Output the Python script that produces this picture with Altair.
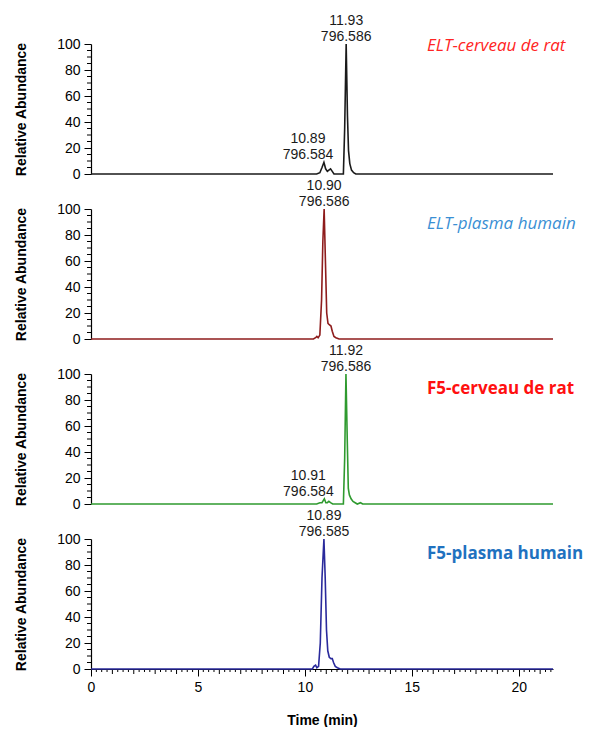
import altair as alt
import pandas as pd

# ---------------- chromatogram traces (time in min, relative abundance %) ----------------
t_elt_rat = [0.0, 10.55, 10.70, 10.80, 10.89, 10.97, 11.05, 11.12, 11.20, 11.28, 11.36,
             11.80, 11.86, 11.93, 11.99, 12.04, 12.10, 12.18, 12.28, 12.38, 21.6]
a_elt_rat = [0, 0, 1, 5, 9, 4, 2, 3, 4, 2, 0,
             0, 35, 100, 45, 18, 8, 3, 1, 0, 0]

t_elt_plasma = [0.0, 10.40, 10.50, 10.56, 10.62, 10.70, 10.78, 10.84, 10.90, 10.96, 11.02,
                11.08, 11.14, 11.22, 11.28, 11.36, 11.45, 11.60, 21.6]
a_elt_plasma = [0, 0, 1, 2, 1, 3, 30, 75, 100, 60, 20,
                12, 11, 10, 6, 2, 1, 0, 0]

t_f5_rat = [0.0, 10.55, 10.70, 10.80, 10.91, 10.98, 11.05, 11.12, 11.20, 11.30,
            11.80, 11.86, 11.92, 11.98, 12.03, 12.08, 12.16, 12.25, 12.35, 12.45, 12.60, 12.70, 21.6]
a_f5_rat = [0, 0, 1, 1, 4, 1, 1, 2, 1, 0,
            0, 35, 100, 50, 12, 7, 4, 2, 1, 0, 1, 0, 0]

t_f5_plasma = [0.0, 10.35, 10.42, 10.50, 10.56, 10.64, 10.72, 10.80, 10.89, 10.95, 11.01,
               11.07, 11.14, 11.22, 11.28, 11.34, 11.42, 11.52, 11.65, 21.6]
a_f5_plasma = [0, 0, 2, 3, 1, 2, 20, 70, 100, 70, 30,
               14, 9, 8, 8, 5, 2, 1, 0, 0]

# ---------------- peak annotations ----------------
ann_elt_rat_rt = [11.93, 10.89]
ann_elt_rat_mz = ["796.586", "796.584"]
ann_elt_rat_h = [100, 9]
ann_elt_rat_role = ["main", "minor"]

ann_elt_plasma_rt = [10.90]
ann_elt_plasma_mz = ["796.586"]
ann_elt_plasma_h = [100]
ann_elt_plasma_role = ["main"]

ann_f5_rat_rt = [11.92, 10.91]
ann_f5_rat_mz = ["796.586", "796.584"]
ann_f5_rat_h = [100, 4]
ann_f5_rat_role = ["main", "minor"]

ann_f5_plasma_rt = [10.89]
ann_f5_plasma_mz = ["796.585"]
ann_f5_plasma_h = [100]
ann_f5_plasma_role = ["main"]

panel_names = ["ELT-cerveau de rat", "ELT-plasma humain", "F5-cerveau de rat", "F5-plasma humain"]

# ---------------- axis ticks ----------------
x_major = [0, 5, 10, 15, 20]
x_int_minor = [1, 2, 3, 4, 6, 7, 8, 9, 11, 12, 13, 14, 16, 17, 18, 19, 21]
x_quarter = [i / 4 for i in range(0, 87) if i % 4 != 0]
y_major = [0, 20, 40, 60, 80, 100]
y_minor = [5, 10, 15, 25, 30, 35, 45, 50, 55, 65, 70, 75, 85, 90, 95]

W, H = 462, 130
LAB_FONT = "Liberation Sans"

x_scale = alt.Scale(domain=[0, 21.6], nice=False, zero=False)
y_scale = alt.Scale(domain=[0, 100], nice=False)


def panel(t, a, color, rts, mzs, hs, roles, name, name_color, name_style, name_weight,
          name_dy, bottom):
    df = pd.DataFrame({"t": t, "a": a})
    if bottom:
        x_axis = alt.Axis(values=x_major, tickSize=7, title="Time (min)", labelFlush=False,
                          labelOverlap=False, labelPadding=4, titlePadding=19)
    else:
        x_axis = None
    y_axis = alt.Axis(values=y_major, tickSize=7, title="Relative Abundance", labelFlush=False,
                      labelOverlap=False, labelPadding=4, titlePadding=28)

    def X(f):
        return alt.X(f, scale=x_scale, axis=x_axis)

    def Y(f):
        return alt.Y(f, scale=y_scale, axis=y_axis)

    line = alt.Chart(df).mark_line(color=color, strokeWidth=1.6).encode(x=X("t:Q"), y=Y("a:Q"))

    ann = pd.DataFrame({
        "t": rts, "a": hs, "role": roles, "mz": mzs,
        "rt": [f"{r:.2f}" for r in rts],
    })
    txt_kw = dict(baseline="alphabetic", fontSize=14, font=LAB_FONT, color="#1a1a1a")
    layers_txt = []
    for role, dx in (("main", 0), ("minor", -16)):
        sub = alt.Chart(ann).transform_filter(f"datum.role === '{role}'")
        layers_txt.append(sub.mark_text(dx=dx, dy=-19, **txt_kw).encode(
            x=X("t:Q"), y=Y("a:Q"), text="rt:N"))
        layers_txt.append(sub.mark_text(dx=dx, dy=-3, **txt_kw).encode(
            x=X("t:Q"), y=Y("a:Q"), text="mz:N"))

    ymin = alt.Chart(pd.DataFrame({"v": y_minor})).mark_rule(color="black", strokeWidth=1).encode(
        y=Y("v:Q"), x=alt.value(0), x2=alt.value(-4))

    name_txt = alt.Chart(pd.DataFrame({"n": [name]})).mark_text(
        align="left", baseline="middle", font="Open Sans", fontSize=17,
        fontStyle=name_style, fontWeight=name_weight, color=name_color).encode(
        x=alt.value(336), y=alt.value(name_dy), text="n:N")

    layers = [ymin, line] + layers_txt + [name_txt]
    if bottom:
        xq = alt.Chart(pd.DataFrame({"v": x_quarter})).mark_rule(color="black").encode(
            x=X("v:Q"), y=alt.value(H), y2=alt.value(H + 3))
        xi = alt.Chart(pd.DataFrame({"v": x_int_minor})).mark_rule(color="black").encode(
            x=X("v:Q"), y=alt.value(H), y2=alt.value(H + 5))
        layers = [xq, xi] + layers
    return alt.layer(*layers).properties(width=W, height=H)


p1 = panel(t_elt_rat, a_elt_rat, "#1a1a1a", ann_elt_rat_rt, ann_elt_rat_mz, ann_elt_rat_h,
           ann_elt_rat_role, panel_names[0], "#ff2424", "italic", "normal", 2, False)
p2 = panel(t_elt_plasma, a_elt_plasma, "#8e1c1c", ann_elt_plasma_rt, ann_elt_plasma_mz,
           ann_elt_plasma_h, ann_elt_plasma_role, panel_names[1], "#3a8fd4", "italic", "normal",
           15, False)
p3 = panel(t_f5_rat, a_f5_rat, "#2f9a2f", ann_f5_rat_rt, ann_f5_rat_mz, ann_f5_rat_h,
           ann_f5_rat_role, panel_names[2], "#ff1010", "normal", "bold", 15, False)
p4 = panel(t_f5_plasma, a_f5_plasma, "#2a2a9c", ann_f5_plasma_rt, ann_f5_plasma_mz,
           ann_f5_plasma_h, ann_f5_plasma_role, panel_names[3], "#1f72c0", "normal", "bold",
           15, True)

chart = alt.vconcat(p1, p2, p3, p4, spacing=35, bounds="flush").properties(
    padding={"left": 6, "top": 6, "right": 0, "bottom": 0}
).configure_view(stroke=None).configure_axis(
    grid=False, domainColor="black", tickColor="black", labelColor="black",
    titleColor="black", labelFont=LAB_FONT, labelFontSize=14, titleFont=LAB_FONT,
    titleFontSize=14, titleFontWeight="bold", domainWidth=1.2, tickWidth=1,
)

chart.save("out.html", embed_options={"renderer": "svg", "actions": False})
